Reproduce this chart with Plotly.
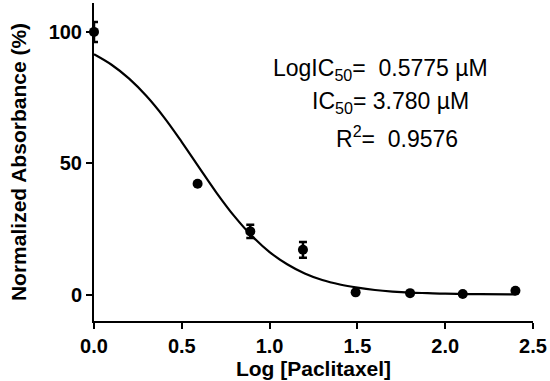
import plotly.graph_objects as go

# Measured data (log concentration, normalized absorbance %, SEM)
log_conc = [0.0, 0.59, 0.89, 1.19, 1.49, 1.80, 2.10, 2.40]
absorbance = [100.0, 42.2, 24.1, 17.1, 0.9, 0.6, 0.3, 1.5]
sem = [3.8, 0.0, 2.5, 3.0, 0.0, 0.0, 0.0, 0.0]

# Fitted curve
curve_x = [0.0, 0.1, 0.2, 0.3, 0.4, 0.5, 0.6, 0.7, 0.8, 0.9, 1.0, 1.1, 1.2,
           1.3, 1.4, 1.5, 1.6, 1.7, 1.8, 1.9, 2.0, 2.2, 2.4]
curve_y = [91.5, 87.5, 82.2, 75.5, 67.4, 58.1, 48.3, 38.6, 29.8, 22.3, 16.2,
           11.6, 8.1, 5.6, 3.9, 2.7, 1.8, 1.2, 0.8, 0.6, 0.4, 0.2, 0.1]

x_ticks = [0.0, 0.5, 1.0, 1.5, 2.0, 2.5]
y_ticks = [0, 50, 100]

stats_text = ["LogIC<sub>50</sub>=\u00a0 0.5775 \u00b5M",
              "IC<sub>50</sub>= 3.780 \u00b5M",
              "R<sup>2</sup>=\u00a0 0.9576"]

FONT = "Liberation Sans, Arial, sans-serif"

fig = go.Figure()
fig.add_trace(go.Scatter(
    x=curve_x, y=curve_y, mode="lines", line=dict(color="black", width=2.2, shape="spline"),
    hoverinfo="skip", showlegend=False, cliponaxis=False))
fig.add_trace(go.Scatter(
    x=log_conc, y=absorbance, mode="markers",
    marker=dict(color="black", size=10, symbol="circle"),
    error_y=dict(type="data", array=sem, visible=True, color="black", thickness=2.5, width=4),
    showlegend=False, cliponaxis=False))

ann_pos = [(1.63, 85.6), (1.69, 73.0), (1.725, 60.0)]
for (ax, ay), t in zip(ann_pos, stats_text):
    fig.add_annotation(x=ax, y=ay, xref="x", yref="y", text=t, showarrow=False,
                       xanchor="center", yanchor="middle",
                       font=dict(family=FONT, size=23, color="black"))

fig.update_layout(
    width=550, height=381,
    margin=dict(l=94, r=17, t=3, b=60),
    plot_bgcolor="white", paper_bgcolor="white",
    xaxis=dict(range=[0, 2.5], tickvals=x_ticks, tickformat=".1f", automargin=False,
               showline=True, linecolor="black", linewidth=2,
               ticks="outside", ticklen=6, tickwidth=2, tickcolor="black",
               showgrid=False, zeroline=False,
               tickfont=dict(size=20, family=FONT, color="black", weight="bold"),
               title=dict(text="<b>Log [Paclitaxel]</b>", font=dict(size=21, family=FONT, color="black"), standoff=2)),
    yaxis=dict(range=[-10, 111], tickvals=y_ticks, automargin=False,
               showline=True, linecolor="black", linewidth=2,
               ticks="outside", ticklen=6, tickwidth=2, tickcolor="black",
               showgrid=False, zeroline=False,
               tickfont=dict(size=20, family=FONT, color="black", weight="bold"),
               title=dict(text="<b>Normalized Absorbance (%)</b>", font=dict(size=21, family=FONT, color="black"), standoff=16)),
)

fig.write_html("out.html", config={"displayModeBar": False},
               post_script="document.body.style.margin='0';document.body.style.padding='0';")
